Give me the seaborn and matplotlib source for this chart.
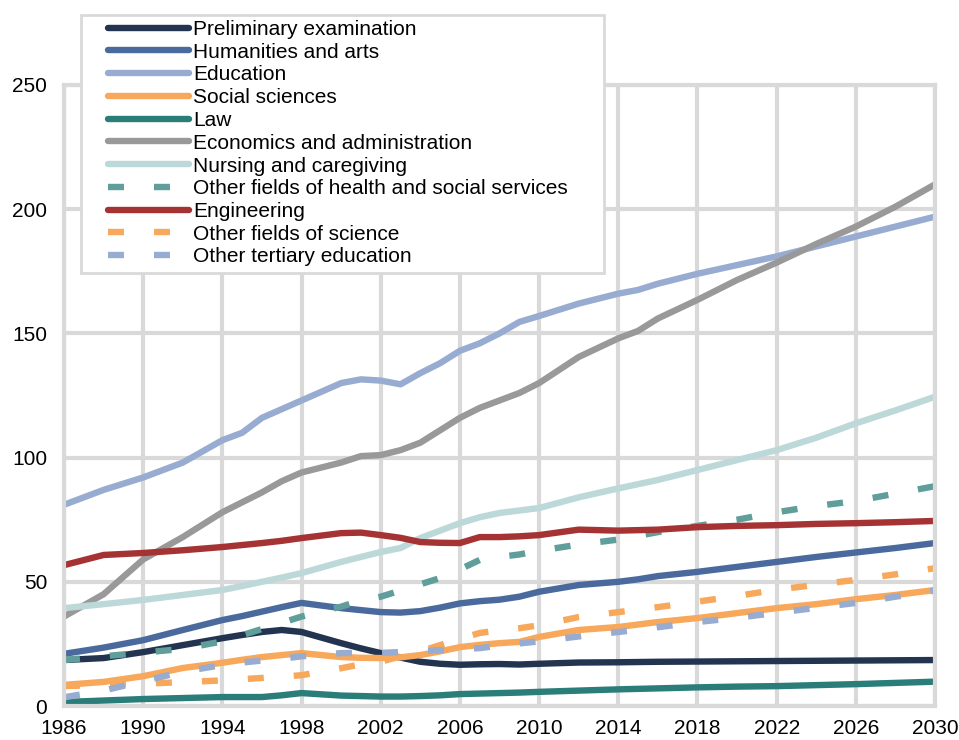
import matplotlib
matplotlib.use("Agg")
import matplotlib.pyplot as plt
from matplotlib.patches import Rectangle
import seaborn as sns
import pandas as pd

# Graduates by field
years = [1986, 1988, 1990, 1992, 1994, 1995, 1996, 1997, 1998, 2000, 2001, 2002, 2003,
         2004, 2005, 2006, 2007, 2008, 2009, 2010, 2012, 2014, 2015, 2016, 2018, 2020,
         2022, 2024, 2026, 2028, 2030]

preliminary = [18.5, 19.3, 21.7, 24.5, 27.3, 28.6, 29.8, 30.6, 29.8, 25.3, 23.2, 21.3, 19.5,
               17.8, 17.0, 16.6, 16.8, 16.9, 16.7, 17.0, 17.5, 17.6, 17.7, 17.8, 17.9, 18.0,
               18.1, 18.2, 18.3, 18.4, 18.5]
humanities = [21, 23.5, 26.5, 30.6, 34.6, 36.2, 38, 39.8, 41.5, 39.4, 38.6, 37.8, 37.6,
              38.2, 39.6, 41.3, 42.2, 42.8, 44, 46, 48.7, 50, 51, 52.3, 54, 56,
              58, 60, 61.8, 63.6, 65.6]
education = [81, 87, 92, 98, 107, 110, 116, 119.5, 123, 130, 131.5, 131, 129.5,
             134, 138, 143, 146, 150, 154.6, 157, 162, 166, 167.5, 170, 174, 177.5,
             181, 185, 189, 193, 197]
social = [8.5, 9.7, 12, 15.3, 17.4, 18.6, 19.7, 20.5, 21.3, 19.7, 19.4, 19.3, 19.6,
          20.5, 22, 23.7, 24.6, 25.3, 25.8, 27.8, 30.6, 31.8, 32.8, 33.8, 35.4, 37.4,
          39.4, 41, 43, 44.7, 46.7]
law = [1.6, 2.2, 2.8, 3.2, 3.6, 3.6, 3.6, 4.3, 5.2, 4.2, 4.0, 3.8, 3.8,
       4.0, 4.3, 4.8, 5.0, 5.2, 5.4, 5.7, 6.2, 6.7, 6.9, 7.1, 7.5, 7.8,
       8.0, 8.4, 8.8, 9.3, 9.8]
economics = [36, 45, 59, 68, 78, 82, 86, 90.5, 94, 98, 100.6, 101, 103,
             106, 111, 116, 120, 123, 126, 130, 140.5, 148, 151, 156, 163.5, 171.5,
             178.5, 186, 193, 201, 210]
nursing = [39.4, 41, 42.7, 44.7, 46.7, 48.3, 50, 51.7, 53.5, 58, 60, 62, 63.6,
           67.6, 70.6, 73.6, 76, 77.7, 78.7, 79.7, 84, 87.6, 89.3, 91, 95, 99,
           103, 108, 113.8, 119, 124.5]
other_health = [18.5, 20, 21.5, 23, 26, 28.5, 31, 33.5, 36, 40, 42.5, 44, 46.5,
                49, 51.5, 55, 58.8, 60, 61, 62.5, 65, 67, 68.5, 70, 72.5, 75,
                78, 80.5, 82.5, 85.5, 88.5]
engineering = [56.7, 60.8, 61.6, 62.7, 64, 64.8, 65.6, 66.5, 67.6, 69.6, 69.8, 68.8, 67.7,
               66, 65.7, 65.6, 68, 68, 68.3, 68.8, 71, 70.6, 70.8, 71, 72, 72.5,
               72.8, 73.3, 73.6, 74, 74.5]
other_science = [8, 8.5, 9, 9.6, 10.3, 10.8, 11.3, 11.8, 12.4, 15.2, 16.8, 17.8, 20,
                 22, 24.5, 27, 29.4, 30.5, 31.3, 32.5, 35.8, 37.8, 38.8, 39.8, 42, 44.3,
                 46.8, 48.8, 50.8, 53, 55.5]
other_tertiary = [3.5, 6.2, 10, 13.8, 16.5, 17.5, 18.3, 19, 20, 21.3, 21.4, 21.4, 21.7,
                  22.1, 22.5, 23, 23.3, 24.3, 25.2, 26, 28, 29.8, 30.7, 31.7, 33.8, 35.5,
                  37.5, 39.5, 41.5, 44, 46.5]

labels = ["Preliminary examination", "Humanities and arts", "Education", "Social sciences",
          "Law", "Economics and administration", "Nursing and caregiving",
          "Other fields of health and social services", "Engineering",
          "Other fields of science", "Other tertiary education"]
series = [preliminary, humanities, education, social, law, economics, nursing,
          other_health, engineering, other_science, other_tertiary]
colors = ["#223450", "#4a6a9e", "#97acd0", "#f7a85b", "#2a7d79", "#999999",
          "#bcd8d8", "#5f9e9b", "#a53333", "#f7a85b", "#97acd0"]
dashed = [False, False, False, False, False, False, False, True, False, True, True]

df = pd.DataFrame({"year": years})
for lab, vals in zip(labels, series):
    df[lab] = vals

sns.set_style("white")
plt.rcParams["font.family"] = ["Liberation Sans", "DejaVu Sans"]
plt.rcParams["text.color"] = "black"

W, H = 959, 740
fig = plt.figure(figsize=(W / 100, H / 100), dpi=100)
ax = fig.add_axes([64 / W, 1 - 706 / H, (935 - 64) / W, (706 - 85) / H])

for lab, col, dsh in zip(labels, colors, dashed):
    sns.lineplot(data=df, x="year", y=lab, ax=ax, color=col, linewidth=4.6, label=lab)
    line = ax.lines[-1]
    if dsh:
        line.set_dashes([2.5, 4.7])
        line.set_dash_capstyle("butt")
    else:
        line.set_solid_capstyle("round")

ax.set_xlim(1986, 2030)
ax.set_ylim(0, 250)
ax.set_xticks(range(1986, 2031, 4))
ax.set_yticks(range(0, 251, 50))
ax.set_xlabel("")
ax.set_ylabel("")
ax.grid(True, color="#d9d9d9", linewidth=3)
for sp in ax.spines.values():
    sp.set_visible(True)
    sp.set_color("#d9d9d9")
    sp.set_linewidth(3)
ax.tick_params(axis="both", length=0, labelsize=15, colors="black")
ax.tick_params(axis="x", pad=9)
ax.tick_params(axis="y", pad=12)

# legend box (frame drawn separately so the handles can sit further in)
box = Rectangle((81 / W, 1 - 273 / H), (604 - 81) / W, (273 - 15) / H,
                transform=fig.transFigure, facecolor="white", edgecolor="#d9d9d9",
                linewidth=2, clip_on=False, zorder=4.5)
ax.add_patch(box)
leg = ax.legend(loc="upper left", bbox_to_anchor=(108 / W, 1 - 20 / H),
                bbox_transform=fig.transFigure, frameon=False,
                fontsize=15, handlelength=3.9, handletextpad=0.2, labelspacing=0.18,
                borderpad=0, borderaxespad=0)
leg.set_zorder(5)
for t in leg.get_texts():
    t.set_color("black")

fig.savefig("out.png", dpi=100)
